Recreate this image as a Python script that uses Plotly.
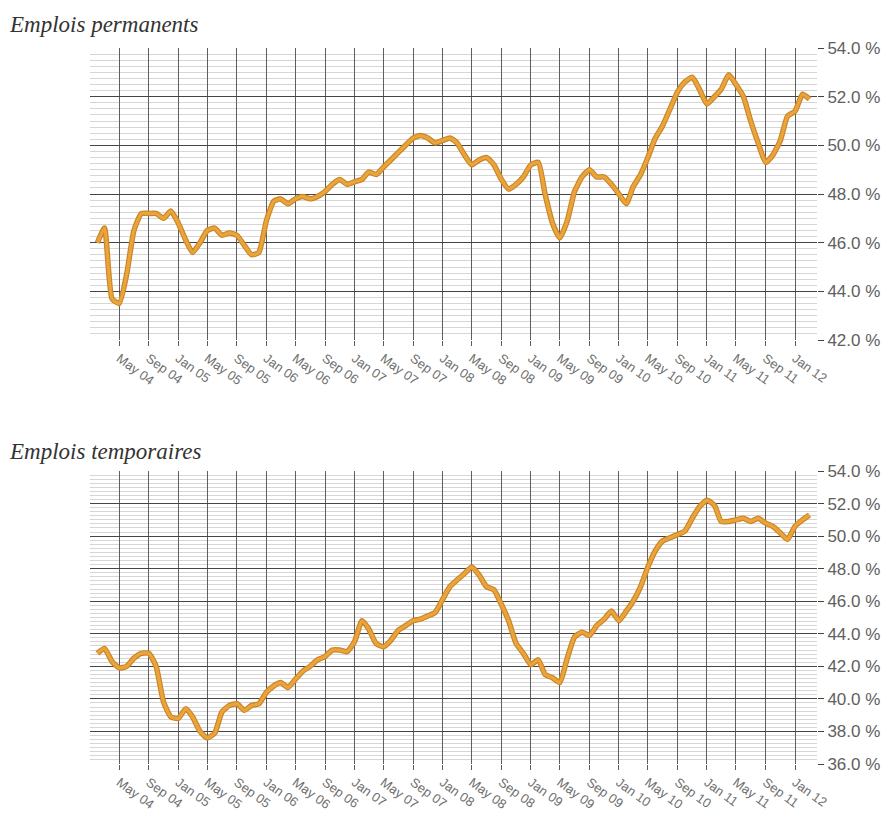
import plotly.graph_objects as go
import pandas as pd

# ---- data ----
months = pd.date_range("2004-02-01", "2012-03-01", freq="MS")

permanents = [
    46.0, 46.6, 43.7, 43.5, 44.7, 46.5, 47.2, 47.2, 47.2, 47.0, 47.3,
    46.8, 46.1, 45.6, 46.0, 46.5, 46.6, 46.3, 46.4, 46.3, 45.9, 45.5, 45.6,
    46.9, 47.7, 47.8, 47.6, 47.8, 47.9, 47.8, 47.9, 48.1, 48.4, 48.6, 48.4,
    48.5, 48.6, 48.9, 48.8, 49.1, 49.4, 49.7, 50.0, 50.3, 50.4, 50.3, 50.1,
    50.2, 50.3, 50.1, 49.6, 49.2, 49.4, 49.5, 49.2, 48.6, 48.2, 48.4, 48.7,
    49.2, 49.3, 48.0, 46.8, 46.2, 46.9, 48.1, 48.7, 49.0, 48.7, 48.7, 48.4,
    48.0, 47.6, 48.3, 48.8, 49.5, 50.3, 50.8, 51.5, 52.2, 52.6, 52.8, 52.3,
    51.7, 52.0, 52.3, 52.9, 52.5, 52.0, 51.0, 50.1, 49.3, 49.6, 50.2, 51.2,
    51.4, 52.1, 51.9,
]

temporaires = [
    42.8, 43.1, 42.3, 41.9, 42.0, 42.5, 42.8, 42.8, 42.0, 39.8, 38.9,
    38.8, 39.4, 38.9, 38.0, 37.6, 37.9, 39.2, 39.6, 39.7, 39.3, 39.6, 39.7,
    40.4, 40.8, 41.0, 40.7, 41.2, 41.7, 42.0, 42.4, 42.6, 43.0, 43.0, 42.9,
    43.5, 44.8, 44.3, 43.4, 43.2, 43.6, 44.2, 44.5, 44.8, 44.9, 45.1, 45.3,
    46.1, 46.9, 47.3, 47.7, 48.1, 47.6, 46.9, 46.7, 45.8, 44.8, 43.4, 42.8,
    42.1, 42.4, 41.5, 41.3, 41.0, 42.5, 43.8, 44.1, 43.9, 44.5, 44.9, 45.4,
    44.8, 45.4, 46.0, 46.9, 48.1, 49.1, 49.7, 49.9, 50.1, 50.3, 51.1, 51.8,
    52.2, 51.9, 50.9, 50.9, 51.0, 51.1, 50.9, 51.1, 50.8, 50.6, 50.2, 49.8,
    50.6, 51.0, 51.3,
]

tick_dates = pd.date_range("2004-05-01", "2012-01-01", freq="4MS")
tick_labels = [d.strftime("%b %y") for d in tick_dates]

titles = ["Emplois permanents", "Emplois temporaires"]
y_ranges = [[42, 54], [36, 54]]

# ---- figure ----
W, H = 888, 813
fig = go.Figure()

x_dom = [90 / W, 817 / W]
y_doms = [[1 - 340 / H, 1 - 48 / H], [1 - 764 / H, 1 - 471 / H]]

line_dark = "#C8862A"
line_light = "#EBA43A"

for i, (series, name) in enumerate(zip([permanents, temporaires], titles)):
    xa = "x" if i == 0 else "x2"
    ya = "y" if i == 0 else "y2"
    fig.add_trace(go.Scatter(x=months, y=series, mode="lines", xaxis=xa, yaxis=ya,
                             line=dict(color=line_dark, width=5.5, shape="spline", smoothing=0.5),
                             hoverinfo="skip", showlegend=False))
    fig.add_trace(go.Scatter(x=months, y=series, mode="lines", xaxis=xa, yaxis=ya,
                             line=dict(color=line_light, width=3.2, shape="spline", smoothing=0.5),
                             name=name, showlegend=False))

axis_common_x = dict(
    type="date",
    range=["2004-01-01", "2012-04-01"],
    tickmode="array",
    tickvals=list(tick_dates),
    ticktext=tick_labels,
    tickangle=36,
    showgrid=True,
    gridcolor="#5e5e5e",
    gridwidth=1,
    ticks="outside",
    ticklen=5,
    tickcolor="#5e5e5e",
    showline=False,
    zeroline=False,
    automargin=False,
    tickfont=dict(family="Liberation Sans, Arial", size=13, color="#6e6e6e"),
)

axis_common_y = dict(
    side="right",
    dtick=2,
    tickformat=".1f",
    ticksuffix=" %",
    showgrid=True,
    gridcolor="#444444",
    gridwidth=1.3,
    ticks="outside",
    ticklen=6,
    tickcolor="#444444",
    zeroline=False,
    showline=False,
    automargin=False,
    minor=dict(dtick=0.25, showgrid=True, gridcolor="#d6d6d6", gridwidth=1),
    tickfont=dict(family="Liberation Sans, Arial", size=17, color="#606060"),
)

fig.update_layout(
    width=W, height=H,
    margin=dict(l=0, r=0, t=0, b=0, autoexpand=False),
    paper_bgcolor="white",
    plot_bgcolor="white",
    xaxis=dict(domain=x_dom, anchor="y", **axis_common_x),
    yaxis=dict(domain=y_doms[0], anchor="x", range=y_ranges[0], **axis_common_y),
    xaxis2=dict(domain=x_dom, anchor="y2", **axis_common_x),
    yaxis2=dict(domain=y_doms[1], anchor="x2", range=y_ranges[1], **axis_common_y),
)

for title, ypix in zip(titles, [24, 451]):
    fig.add_annotation(
        text=title, xref="paper", yref="paper",
        x=7 / W, y=1 - ypix / H, xanchor="left", yanchor="middle",
        showarrow=False,
        font=dict(family="Liberation Serif, DejaVu Serif", size=23, color="#333333", style="italic"),
    )

fig.write_html(
    "out.html",
    config={"displayModeBar": False},
    post_script="document.body.style.margin='0';document.body.style.overflow='hidden';",
)
